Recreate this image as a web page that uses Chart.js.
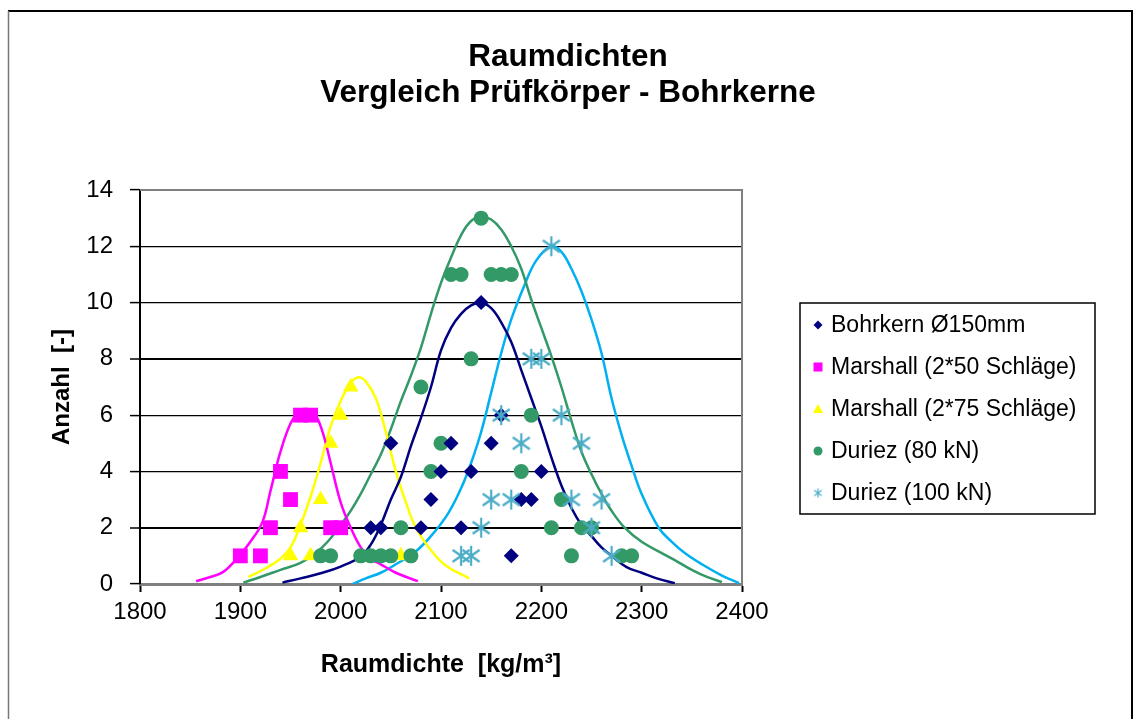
<!DOCTYPE html>
<html>
<head>
<meta charset="utf-8">
<script src="https://cdn.jsdelivr.net/npm/chart.js@4"></script>
<style>
  html, body { margin: 0; padding: 0; background: #fff; overflow: hidden; }
  #wrap { position: absolute; left: 0; top: 0; width: 1138px; height: 719px; }
</style>
</head>
<body>
<div id="wrap"><canvas id="myChart" width="1138" height="719"></canvas></div>
<script>
// Messwerte (Raumdichte / Anzahl)
var bohrkernX = [2030, 2040, 2050, 2080, 2090, 2100, 2110, 2120, 2130, 2140, 2150, 2160, 2170, 2180, 2190, 2200];
var bohrkernN = [2, 2, 5, 2, 3, 4, 5, 2, 4, 10, 5, 6, 1, 3, 3, 4];

var marshall50X = [1900, 1920, 1930, 1940, 1950, 1960, 1970, 1990, 2000];
var marshall50N = [1, 1, 2, 4, 3, 6, 6, 2, 2];

var marshall75X = [1950, 1960, 1970, 1980, 1990, 2000, 2010, 2060];
var marshall75N = [1, 2, 1, 3, 5, 6, 7, 1];

var duriez80X = [1980, 1990, 2020, 2030, 2040, 2050, 2060, 2070, 2080, 2090, 2100, 2110, 2120, 2130, 2140, 2150, 2160, 2170, 2180, 2190, 2210, 2220, 2230, 2240, 2250, 2280, 2290];
var duriez80N = [1, 1, 1, 1, 1, 1, 2, 1, 7, 4, 5, 11, 11, 8, 13, 11, 11, 11, 4, 6, 2, 3, 1, 2, 2, 1, 1];

var duriez100X = [2120, 2130, 2140, 2150, 2160, 2170, 2180, 2190, 2200, 2210, 2220, 2230, 2240, 2250, 2260, 2270];
var duriez100N = [1, 1, 2, 3, 6, 3, 5, 8, 8, 12, 6, 3, 5, 2, 3, 1];

// Verteilungskurven
var bohrkernKurveX = [1942, 1960, 1980, 2000, 2020, 2030, 2040, 2050, 2060, 2070, 2080, 2090, 2100, 2110, 2120, 2130, 2140, 2150, 2160, 2170, 2180, 2190, 2200, 2210, 2220, 2230, 2240, 2250, 2260, 2270, 2285, 2300, 2315, 2333];
var bohrkernKurveY = [0.05, 0.2, 0.38, 0.62, 0.98, 1.4, 2.1, 3.0, 3.8, 4.9, 5.9, 7.0, 8.3, 9.1, 9.6, 9.9, 10.0, 9.8, 9.3, 8.6, 7.6, 6.6, 5.6, 4.5, 3.5, 2.7, 2.1, 1.7, 1.3, 1.0, 0.6, 0.4, 0.2, 0.03];

var marshall50KurveX = [1856, 1870, 1883, 1897, 1910, 1922, 1930, 1940, 1950, 1958, 1966, 1974, 1982, 1990, 2000, 2010, 2020, 2030, 2040, 2055, 2077];
var marshall50KurveY = [0.1, 0.25, 0.43, 0.92, 1.5, 2.2, 3.3, 4.7, 5.7, 6.1, 6.2, 6.05, 5.4, 4.3, 2.9, 2.0, 1.3, 0.9, 0.7, 0.4, 0.1];

var marshall75KurveX = [1908, 1925, 1940, 1950, 1960, 1970, 1980, 1990, 2000, 2010, 2018, 2025, 2035, 2045, 2055, 2065, 2075, 2090, 2105, 2128];
var marshall75KurveY = [0.25, 0.55, 0.9, 1.3, 2.1, 3.1, 4.3, 5.6, 6.5, 7.15, 7.35, 7.2, 6.6, 5.4, 4.0, 2.9, 2.0, 1.2, 0.65, 0.2];

var duriez80KurveX = [1903, 1920, 1940, 1960, 1975, 1987, 2000, 2010, 2020, 2030, 2040, 2050, 2060, 2070, 2080, 2090, 2100, 2110, 2120, 2130, 2140, 2150, 2160, 2170, 2180, 2190, 2200, 2210, 2220, 2230, 2240, 2250, 2260, 2270, 2283, 2300, 2320, 2333, 2350, 2365, 2380];
var duriez80KurveY = [0.05, 0.25, 0.5, 0.75, 1.1, 1.5, 2.1, 2.6, 3.2, 3.9, 4.6, 5.5, 6.5, 7.4, 8.4, 9.6, 10.7, 11.6, 12.4, 12.9, 13.05, 12.95, 12.6, 12.0, 11.2, 10.1, 9.1, 8.1, 7.0, 5.8, 4.7, 3.9, 3.2, 2.6, 2.0, 1.5, 1.1, 0.85, 0.5, 0.25, 0.07];

var duriez100KurveX = [2012, 2025, 2040, 2055, 2073, 2090, 2107, 2120, 2130, 2140, 2150, 2160, 2170, 2183, 2195, 2210, 2220, 2230, 2240, 2250, 2260, 2270, 2280, 2290, 2300, 2317, 2330, 2343, 2360, 2380, 2397];
var duriez100KurveY = [0.0, 0.2, 0.4, 0.7, 1.1, 1.7, 2.5, 3.4, 4.3, 5.4, 6.8, 8.2, 9.4, 10.6, 11.5, 12.0, 11.8, 11.2, 10.4, 9.4, 8.2, 6.6, 5.3, 4.2, 3.2, 2.0, 1.5, 1.1, 0.7, 0.3, 0.03];

var xTicks = [1800, 1900, 2000, 2100, 2200, 2300, 2400];
var yTicks = [0, 2, 4, 6, 8, 10, 12, 14];

var FONT = '"Liberation Sans", Arial, sans-serif';

function pts(xs, ys) {
    return xs.map(function (x, i) { return { x: x, y: ys[i] }; });
}

// Stern-Marker wie in Excel (senkrecht + X)
function makeStar(size, color, lw) {
    var c = document.createElement('canvas');
    c.width = size; c.height = size;
    var g = c.getContext('2d');
    g.strokeStyle = color;
    g.lineWidth = lw;
    var m = size / 2, r = size / 2 - 1;
    g.beginPath();
    g.moveTo(m, m - r); g.lineTo(m, m + r);
    g.moveTo(m - r * 0.85, m - r * 0.6); g.lineTo(m + r * 0.85, m + r * 0.6);
    g.moveTo(m - r * 0.85, m + r * 0.6); g.lineTo(m + r * 0.85, m - r * 0.6);
    g.stroke();
    return c;
}
var starBig = makeStar(22, '#4BACC6', 2.2);
var starSmall = makeStar(11, '#4BACC6', 1.2);

function kurve(label, xs, ys, color) {
    return {
        label: label,
        data: pts(xs, ys),
        showLine: true,
        borderColor: color,
        borderWidth: 2.5,
        pointRadius: 0,
        pointHoverRadius: 0,
        tension: 0.4,
        fill: false,
        order: 10,
        isCurve: true
    };
}

var framePlugin = {
    id: 'frame',
    beforeDraw: function (chart) {
        var c = chart.ctx;
        c.save();
        c.fillStyle = '#fff';
        c.fillRect(0, 0, chart.width, chart.height);
        c.strokeStyle = '#000';
        c.lineWidth = 2;
        c.beginPath();
        c.moveTo(8, 11); c.lineTo(1132, 11); c.lineTo(1132, 730);
        c.stroke();
        c.strokeStyle = '#777';
        c.lineWidth = 1.5;
        c.beginPath();
        c.moveTo(8.5, 11); c.lineTo(8.5, 730);
        c.stroke();
        // Titel
        c.fillStyle = '#000';
        c.textAlign = 'center';
        c.textBaseline = 'middle';
        c.font = 'bold 31.5px ' + FONT;
        c.fillText('Raumdichten', 568, 57);
        c.fillText('Vergleich Prüfkörper - Bohrkerne', 568, 93);
        c.restore();
    },
    beforeDatasetsDraw: function (chart) {
        var a = chart.chartArea, c = chart.ctx;
        c.save();
        c.strokeStyle = '#808080';
        c.lineWidth = 2;
        c.beginPath();
        c.moveTo(a.left, a.top); c.lineTo(a.right, a.top); c.lineTo(a.right, a.bottom);
        c.stroke();
        c.restore();
    },
    afterDraw: function (chart) {
        // Legende
        var c = chart.ctx;
        c.save();
        c.strokeStyle = '#000';
        c.lineWidth = 1.5;
        c.strokeRect(800, 303, 295, 211);
        c.font = '23px ' + FONT;
        c.textAlign = 'left';
        c.textBaseline = 'middle';
        var rows = chart.data.datasets.filter(function (d) { return !d.isCurve; });
        rows.forEach(function (d, i) {
            var y = 325 + i * 42, x = 818;
            c.fillStyle = d.backgroundColor;
            c.beginPath();
            if (d.pointStyle === 'rectRot') {
                c.moveTo(x, y - 4.5); c.lineTo(x + 4.5, y); c.lineTo(x, y + 4.5); c.lineTo(x - 4.5, y);
                c.fill();
            } else if (d.pointStyle === 'rect') {
                c.fillRect(x - 4.5, y - 4.5, 9, 9);
            } else if (d.pointStyle === 'triangle') {
                c.moveTo(x, y - 5); c.lineTo(x + 5, y + 4); c.lineTo(x - 5, y + 4);
                c.fill();
            } else if (d.pointStyle === 'circle') {
                c.arc(x, y, 4.5, 0, Math.PI * 2);
                c.fill();
            } else {
                c.drawImage(starSmall, x - 5.5, y - 5.5);
            }
            c.fillStyle = '#000';
            c.fillText(d.label, 831, y + 1);
        });
        c.restore();
    }
};

var ctx = document.getElementById('myChart');
var myChart = new Chart(ctx, {
    type: 'scatter',
    data: {
        datasets: [
            { label: 'Bohrkern Ø150mm', data: pts(bohrkernX, bohrkernN), pointStyle: 'rectRot', pointRadius: 7.5, backgroundColor: '#000080', borderColor: '#000080', borderWidth: 0, order: 1 },
            { label: 'Marshall (2*50 Schläge)', data: pts(marshall50X, marshall50N), pointStyle: 'rect', pointRadius: 10.5, backgroundColor: '#FF00FF', borderColor: '#FF00FF', borderWidth: 0, order: 4 },
            { label: 'Marshall (2*75 Schläge)', data: pts(marshall75X, marshall75N), pointStyle: 'triangle', pointRadius: 9, backgroundColor: '#FFFF00', borderColor: '#FFFF00', borderWidth: 0, order: 3 },
            { label: 'Duriez (80 kN)', data: pts(duriez80X, duriez80N), pointStyle: 'circle', pointRadius: 7.5, backgroundColor: '#339966', borderColor: '#339966', borderWidth: 0, order: 2 },
            { label: 'Duriez (100 kN)', data: pts(duriez100X, duriez100N), pointStyle: starBig, pointRadius: 11, backgroundColor: '#4BACC6', borderColor: '#4BACC6', order: 0 },
            kurve('Kurve Bohrkern', bohrkernKurveX, bohrkernKurveY, '#000080'),
            kurve('Kurve Marshall 50', marshall50KurveX, marshall50KurveY, '#FF00FF'),
            kurve('Kurve Marshall 75', marshall75KurveX, marshall75KurveY, '#FFFF00'),
            kurve('Kurve Duriez 80', duriez80KurveX, duriez80KurveY, '#339966'),
            kurve('Kurve Duriez 100', duriez100KurveX, duriez100KurveY, '#00B0F0')
        ]
    },
    options: {
        responsive: false,
        animation: false,
        events: [],
        layout: { padding: { left: 0, top: 190, right: 396, bottom: 35 } },
        plugins: {
            legend: { display: false },
            title: { display: false },
            tooltip: { enabled: false }
        },
        scales: {
            x: {
                type: 'linear',
                min: 1800,
                max: 2400,
                afterBuildTicks: function (s) { s.ticks = xTicks.map(function (v) { return { value: v }; }); },
                afterFit: function (s) { s.height = 100; },
                ticks: {
                    color: '#000',
                    font: { family: FONT, size: 24 },
                    padding: 6,
                    maxRotation: 0,
                    callback: function (v) { return String(v); }
                },
                grid: { drawOnChartArea: false, drawTicks: true, tickLength: 8, tickColor: '#000', tickWidth: 2 },
                border: { color: '#808080', width: 3 },
                title: { display: true, text: 'Raumdichte  [kg/m³]', color: '#000', font: { family: FONT, size: 25, weight: 'bold' }, padding: { top: 0, bottom: 4 } }
            },
            y: {
                min: 0,
                max: 14,
                afterBuildTicks: function (s) { s.ticks = yTicks.map(function (v) { return { value: v }; }); },
                afterFit: function (s) { s.width = 140; },
                ticks: { color: '#000', font: { family: FONT, size: 24 }, padding: 17 },
                grid: {
                    color: function (c) { return c.tick && c.tick.value === 14 ? '#808080' : '#000'; },
                    lineWidth: function (c) { return c.tick && (c.tick.value === 2 || c.tick.value === 8) ? 2 : 1.2; },
                    tickLength: 10,
                    tickColor: '#000',
                    tickWidth: 1.5
                },
                border: { color: '#000', width: 2 },
                title: { display: true, text: 'Anzahl  [-]', color: '#000', font: { family: FONT, size: 24, weight: 'bold' }, padding: { top: 48, bottom: 0 } }
            }
        }
    },
    plugins: [framePlugin]
});
</script>
</body>
</html>
